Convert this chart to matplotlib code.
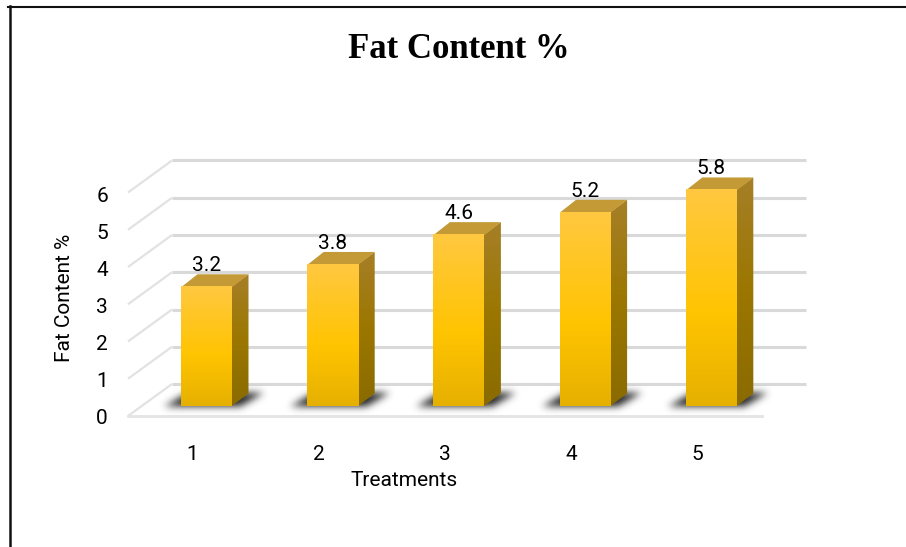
import numpy as np
import matplotlib
matplotlib.use("Agg")
import matplotlib.pyplot as plt
from matplotlib.patches import Polygon
from matplotlib.colors import LinearSegmentedColormap

treatments = [1, 2, 3, 4, 5]
fat_content = [3.2, 3.8, 4.6, 5.2, 5.8]
y_ticks = [0, 1, 2, 3, 4, 5, 6]
title_text = "Fat Content %"
x_label = "Treatments"
y_label = "Fat Content %"

W, H = 906, 547
fig = plt.figure(figsize=(W / 100, H / 100), dpi=100)
ax = fig.add_axes([0, 0, 1, 1])
ax.axis("off")

# Data scales: x=category, y=value, on the bar front plane
PX_X = 126.2
PX_Y = 37.25
X0 = 206.5
Y0 = 406.5
dx = lambda px: px / PX_X
dy = lambda px: px / PX_Y
xlim = (1 - X0 / PX_X, 1 + (W - X0) / PX_X)
ylim = (-(H - Y0) / PX_Y, Y0 / PX_Y)

GRID = "#d9d9d9"
FONT = "Roboto"

# walls and floor grid
fx0, fx1 = dx(128 - X0) + 1, dx(762 - X0) + 1
bx0, bx1 = dx(172 - X0) + 1, dx(806 - X0) + 1
for v in y_ticks:
    fy = v + dy(-9.5)
    by = v + dy(22.5)
    ax.plot([fx0, bx0], [fy, by], color="#e2e2e2", lw=1.6, solid_capstyle="butt", zorder=1)
    ax.plot([bx0, bx1], [by, by], color=GRID, lw=2.2, solid_capstyle="butt", zorder=1)
ax.plot([fx0, fx1], [dy(-9.5)] * 2, color="#e4e4e4", lw=2, zorder=1)

front_cmap = LinearSegmentedColormap.from_list(
    "front", [(0, "#ffc840"), (0.58, "#ffc400"), (1, "#e6b000")])
side_cmap = LinearSegmentedColormap.from_list(
    "side", ["#a67f28", "#9b7700", "#8a6b00"])
grad = np.linspace(0, 1, 128).reshape(-1, 1)

half = dx(25.5)
dep_x, dep_y = dx(16.5), dy(13)

# blurred floor shadow sprite, pixel offsets relative to the bar base centre
sx = np.arange(-60, 80)
sy = np.arange(-16, 30)
gx, gy = np.meshgrid(sx, sy)
t_y = np.clip(gy / 14.0, 0, 1)
mask = ((gy >= 0) & (gy <= 13) &
        (gx >= -42 + 24 * t_y) & (gx <= 34 + 24 * t_y)).astype(float)
kernel = np.exp(-0.5 * (np.arange(-12, 13) / 3.8) ** 2)
kernel /= kernel.sum()
blur = np.apply_along_axis(lambda r: np.convolve(r, kernel, mode="same"), 1, mask)
blur = np.apply_along_axis(lambda c: np.convolve(c, kernel, mode="same"), 0, blur)
shadow = np.zeros(blur.shape + (4,))
shadow[..., :3] = 0.13
shadow[..., 3] = np.clip(blur * 1.0, 0, 1)

for t, v in zip(treatments, fat_content):
    ax.imshow(shadow, extent=(t + dx(sx[0]), t + dx(sx[-1]), dy(sy[0]), dy(sy[-1])),
              origin="lower", aspect="auto", zorder=2, interpolation="bilinear")
    # side face
    side = Polygon([(t + half - dx(1), 0), (t + half + dep_x, dep_y),
                    (t + half + dep_x, v + dep_y), (t + half - dx(1), v)],
                   closed=True, fc="none", ec="none", zorder=3)
    ax.add_patch(side)
    im = ax.imshow(grad, extent=(t + half - dx(1), t + half + dep_x, 0, v + dep_y),
                   cmap=side_cmap, aspect="auto", zorder=3, origin="upper")
    im.set_clip_path(side)
    # top face
    ax.add_patch(Polygon([(t - half, v), (t + half, v),
                          (t + half + dep_x, v + dep_y),
                          (t - half + dep_x, v + dep_y)],
                         closed=True, fc="#c39a36", ec="none", zorder=4))
    # front face
    ax.imshow(grad, extent=(t - half, t + half, 0, v), cmap=front_cmap,
              aspect="auto", zorder=5, origin="upper")
    # value label
    ax.text(t, v + dy(21.5), f"{v:.1f}", ha="center", va="center",
            fontsize=15, family=FONT, color="#000000", zorder=6)

ax.set_xlim(*xlim)
ax.set_ylim(*ylim)

for v in y_ticks:
    ax.text(dx(102 - X0) + 1, v * 0.9933 + dy(-12.5), str(v), ha="center", va="center",
            fontsize=15, family=FONT, color="#000000")
for t in treatments:
    ax.text(t - dx(14), dy(-48), str(t), ha="center", va="center",
            fontsize=15, family=FONT, color="#000000")

fig.text(404 / W, 1 - 481 / H, x_label, ha="center", va="center",
         fontsize=15, family=FONT, color="#000000")
fig.text(64 / W, 1 - 298 / H, y_label, ha="center", va="center", rotation=90,
         fontsize=15, family=FONT, color="#000000")
fig.text(459 / W, 1 - 49 / H, title_text, ha="center", va="center",
         fontsize=25, family="Liberation Serif", weight="bold", color="#000000")

# outer frame
ax.plot([dx(9.7 - X0) + 1] * 2, [ylim[0], (Y0 - 6) / PX_Y], color="#111111", lw=1.8, zorder=7)
ax.plot([dx(8.5 - X0) + 1, xlim[1]], [(Y0 - 6.7) / PX_Y] * 2, color="#111111", lw=1.5, zorder=7)

fig.savefig("out.png", dpi=100)
